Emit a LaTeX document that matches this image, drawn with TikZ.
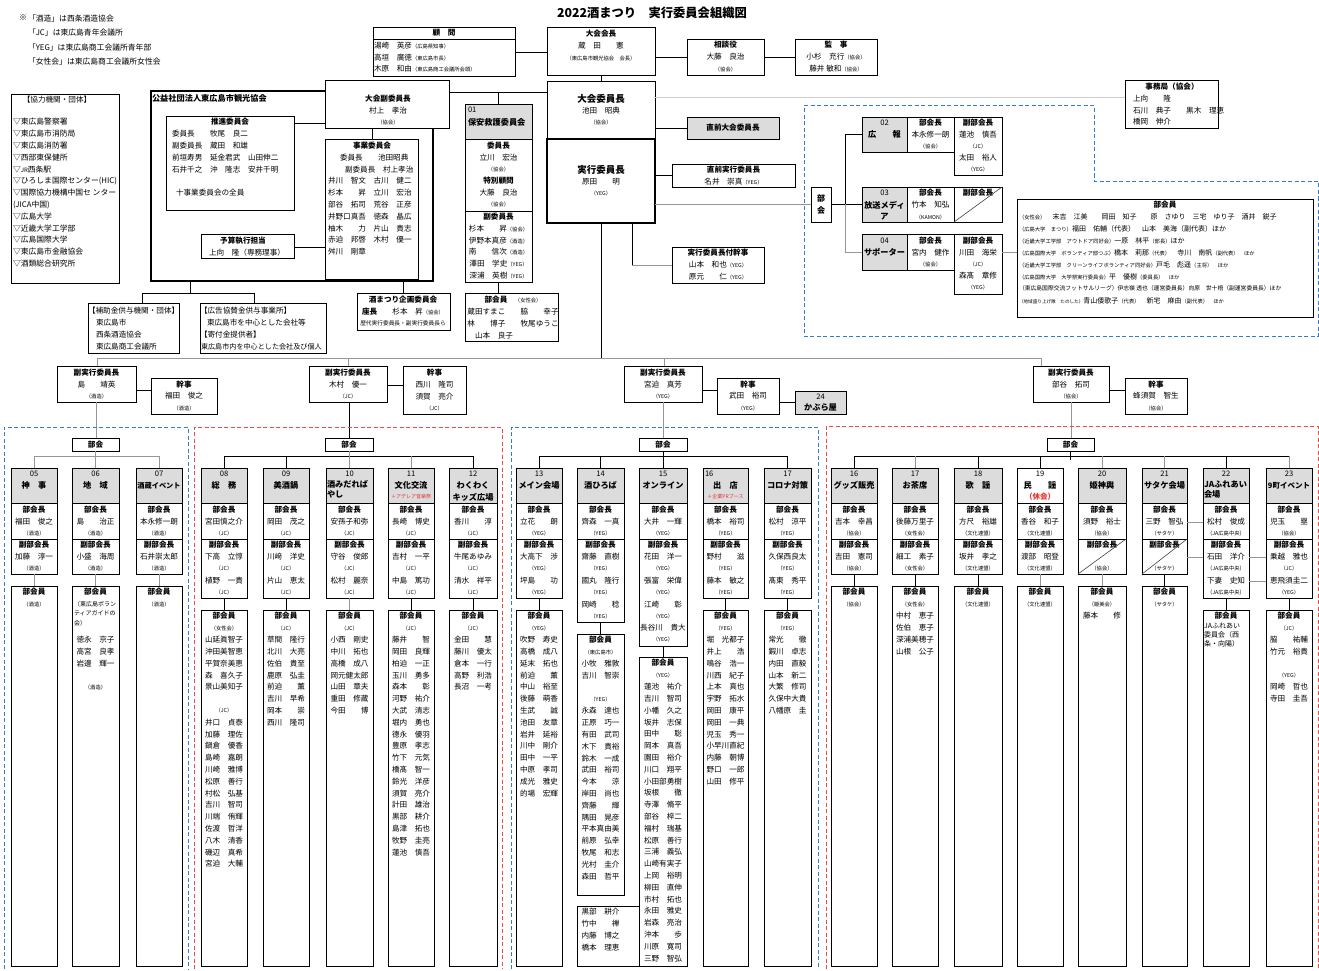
\documentclass[tikz,border=0pt]{standalone}
\usepackage{fontspec}
\setmainfont{Noto Sans CJK JP}
\definecolor{hdrgray}{RGB}{220,220,220}
\definecolor{dblue}{RGB}{52,125,200}
\definecolor{dred}{RGB}{240,75,75}
\definecolor{tred}{RGB}{235,45,45}
\definecolor{lgray}{RGB}{150,150,150}
\definecolor{llgray}{RGB}{205,205,205}
\newcounter{tn}
\newcommand\fN{\fontsize{7.6}{8}\selectfont}
\newcommand\fB{\fontsize{7.6}{8}\selectfont\bfseries}
\newcommand\fH{\fontsize{8.2}{9}\selectfont\bfseries}
\newcommand\fS{\fontsize{5.3}{6}\selectfont}
\newcommand\fM{\fontsize{7}{8}\selectfont}
\newcommand\fR{\fontsize{5}{6}\selectfont\color{tred}}
\newcommand\OG[1]{{\fS （#1）}}
\newcommand\TX[4][]{\stepcounter{tn}\node[t,#1] (t\arabic{tn}) at ({#2},{#3}) {#4};}
\newcommand\BX[6][]{\node[box,#1,minimum width={(#5-#3)*1pt},minimum height={(#6-#4)*1pt}] (#2) at (#3,#4) {};}
\newcommand\LST[4][]{\foreach \s [count=\i from 0] in {#4}{\stepcounter{tn}\node[t,#1] (t\arabic{tn}) at ({#2},{#3+\i*11.8}) {\s};}}
\newcommand\HC[4][cb]{\draw[#1] (#2 |- 0,#4) -- (#3 |- 0,#4);}
\newcommand\DHdr[6][\fH]{%
 \BX[fill=hdrgray]{h#2}{#3}{468}{#4}{503}%
 \TX{(#3+#4)/2}{474}{#5}%
 \TX[font=#1]{(#3+#4)/2}{485.5}{#6}}
\newcommand\DChief[5]{%
 \BX{c#1}{#2}{503}{#3}{539}%
 \TX[font=\fB]{(#2+#3)/2}{510}{部会長}%
 \TX{(#2+#3)/2}{521.5}{#4}%
 \TX[font=\fS]{(#2+#3)/2}{533}{（#5）}}
\newcommand\DVice[5]{%
 \BX{v#1}{#2}{539}{#3}{#4}%
 \TX[font=\fB]{(#2+#3)/2}{545}{副部会長}%
 \LST{(#2+#3)/2}{557}{#5}}
\newcommand\DMem[5]{%
 \BX{m#1}{#2}{#4}{#3}{966}%
 \TX[font=\fB]{(#2+#3)/2}{#4+6}{部会員}%
 \LST{(#2+#3)/2}{#4+18}{#5}}
\begin{document}
\begin{tikzpicture}[x=1pt,y=-1pt,
 box/.style={draw,line width=0.75pt,inner sep=0pt,outer sep=0pt,anchor=north west},
 t/.style={inner sep=0pt,outer sep=0pt,font=\fN},
 cb/.style={line width=0.75pt},
 cg/.style={line width=0.75pt,draw=lgray},
 cl/.style={line width=0.75pt,draw=llgray},
 bdash/.style={draw=dblue,line width=1pt,dash pattern=on 4pt off 2.5pt},
 rdash/.style={draw=dred,line width=1pt,dash pattern=on 4pt off 2.5pt},
 diag/.style={line width=0.6pt,draw=black!75}]
\fill[white] (0,0) rectangle (1319,971);
\useasboundingbox (0,0) rectangle (1319,971);

% title and notes
\TX[font=\fontsize{12.3}{14}\selectfont\bfseries]{652}{13}{2022酒まつり　実行委員会組織図}
\TX[anchor=west,font=\fontsize{8}{9}\selectfont]{19}{18}{※}
\TX[anchor=west,font=\fontsize{7.8}{9}\selectfont]{28}{18.5}{「酒造」は西条酒造協会}
\TX[anchor=west,font=\fontsize{7.8}{9}\selectfont]{28}{33}{「JC」は東広島青年会議所}
\TX[anchor=west,font=\fontsize{7.8}{9}\selectfont]{28}{47.5}{「YEG」は東広島商工会議所青年部}
\TX[anchor=west,font=\fontsize{7.8}{9}\selectfont]{28}{62}{「女性会」は東広島商工会議所女性会}

% cooperating organisations
\BX{kyoryoku}{11}{94}{119}{283}
\TX{57}{100}{【協力機関・団体】}
\LST[anchor=west,font=\fontsize{7.8}{9}\selectfont]{13}{122}{▽東広島警察署,▽東広島市消防局,▽東広島消防署,▽西部東保健所,▽{\fontsize{6}{7}\selectfont JR}西条駅,▽ひろしま国際センター(HIC),▽国際協力機構中国セ ンター,(JICA中国),▽広島大学,▽近畿大学工学部,▽広島国際大学,▽東広島市金融協会,▽酒類総合研究所}

% tourism association (thick)
\BX[line width=2.5pt]{kanko}{151}{91}{433}{281}
\TX[anchor=west,font=\fH]{152}{98}{公益社団法人東広島市観光協会}
\BX{suishin}{166}{116}{294}{210}
\TX[font=\fB]{230}{122}{推進委員会}
\LST[anchor=west]{172}{134}{委員長　　牧尾　良二,副委員長　蔵田　和雄,前垣寿男　延金君武　山田伸二,石井千之　沖　隆志　安井千明}
\TX[anchor=west]{176}{193}{十事業委員会の全員}
\BX{yosan}{201}{234}{294}{258}
\TX[font=\fB]{243}{241}{予算執行担当}
\TX{247}{253}{上向　隆（専務理事）}

\BX[fill=white]{fukuiin}{325}{80}{449}{128}
\TX[font=\fB]{388}{99}{大会副委員長}
\TX{388}{110.5}{村上　孝治}
\TX[font=\fS]{388}{122}{（協会）}
\BX{jigyo}{325}{139}{418}{279}
\TX[font=\fB]{372}{146}{事業委員会}
\TX[anchor=west]{340}{158}{委員長　　池田昭典}
\TX[anchor=west]{345}{169.5}{副委員長　村上孝治}
\LST[anchor=west]{328}{181}{井川　智文　古川　健二,杉本　　昇　立川　宏治,部谷　拓司　荒谷　正彦,井野口真吾　徳森　晶広,柚木　　力　片山　貴志,赤迫　邦啓　木村　優一,舛川　剛章}
\HC{suishin.east}{fukuiin.west}{123}
\HC{yosan.east}{jigyo.west}{247}
\draw[cb] (fukuiin.south -| 372,0) -- (jigyo.north -| 372,0);

\BX{kikaku}{357}{293}{450}{330}
\TX[font=\fB]{403}{299.5}{酒まつり企画委員会}
\TX{403}{311.5}{{\fB 座長}　　杉本　昇{\fS（協会）}}
\TX[font=\fontsize{5.7}{6}\selectfont]{403}{323}{歴代実行委員長・副実行委員長ら}
\draw[cb] (kanko.south -| 403,0) -- (kikaku.north -| 403,0);

% subsidy / sponsors
\BX{hojo}{88}{303}{179}{353}
\BX{kokoku}{200}{303}{326}{353}
\coordinate (hj) at (190,293);
\draw[cb] (kanko.south -| hj) -- (hj);
\draw[cb] (hojo.north -| 142,0) -- (142,293) -- (254,293) -- (kokoku.north -| 254,0);
\TX[anchor=west]{88}{311}{【補助金供与機関・団体】}
\LST[anchor=west]{96}{323}{東広島市,西条酒造協会,東広島商工会議所}
\TX[anchor=west]{200}{311}{【広告協賛金供与事業所】}
\TX[anchor=west]{207}{323}{東広島市を中心とした会社等}
\TX[anchor=west]{200}{335}{【寄付金提供者】}
\TX[anchor=west,font=\fontsize{7.1}{8}\selectfont]{201}{346.5}{東広島市内を中心とした会社及び個人}

% advisers and chair
\BX{komon}{373}{27}{515}{76}
\draw[cb] (komon.west |- 0,39) -- (komon.east |- 0,39);
\TX[font=\fB]{444}{33}{顧　問}
\LST[anchor=west]{374}{45.5}{湯崎　英彦{\fS（広島県知事）},高垣　廣徳{\fS（東広島市長）},木原　和由{\fS（東広島商工会議所会頭）}}
\BX{kaicho}{547}{27}{655}{75}
\TX[font=\fB]{601}{33.5}{大会会長}
\TX{601}{46}{蔵　田　　憲}
\TX[font=\fS]{601}{58}{（東広島市観光協会　会長）}
\HC{komon.east}{kaicho.west}{52}
\BX{sodan}{687}{39}{764}{75}
\TX[font=\fB]{725.5}{45}{相談役}
\TX{725.5}{57}{大藤　良治}
\TX[font=\fS]{725.5}{69}{（協会）}
\HC{kaicho.east}{sodan.west}{57}
\BX{kanji}{795}{39}{877}{75}
\TX[font=\fB]{836}{45}{監　事}
\TX{836}{57}{小杉　充行{\fS（協会）}}
\TX{836}{69}{藤井 敏和{\fS（協会）}}
\HC{sodan.east}{kanji.west}{57}

\BX{iincho}{547}{81}{655}{139}
\draw[cb] (kaicho.south -| 601,0) -- (iincho.north -| 601,0);
\TX[font=\fontsize{9.5}{10}\selectfont\bfseries]{601}{99}{大会委員長}
\TX{601}{110.5}{池田　昭典}
\TX[font=\fS]{601}{122}{（協会）}
\BX[line width=2.2pt]{jikko}{547}{139}{655}{223}
\TX[font=\fontsize{9.5}{10}\selectfont\bfseries]{601}{170}{実行委員長}
\TX{601}{182}{原田　　明}
\TX[font=\fS]{601}{193.5}{（YEG）}
\HC{fukuiin.east}{iincho.west}{92}

% 01 hoan
\BX[fill=hdrgray]{h01}{465}{104}{532}{139}
\draw[cb] (h01.north |- 0,92) -- (h01.north);
\TX[anchor=west]{468}{110}{01}
\TX[anchor=west,font=\fH]{468}{122}{保安救護委員会}
\BX{s01a}{465}{139}{532}{211}
\TX[font=\fB]{498.5}{146}{委員長}
\TX{498.5}{157.5}{立川　宏治}
\TX[font=\fS]{498.5}{169}{（協会）}
\TX[font=\fB]{498.5}{181}{特別顧問}
\TX{498.5}{193}{大藤　良治}
\TX[font=\fS]{498.5}{204.5}{（協会）}
\BX{s01b}{465}{211}{532}{282}
\TX[font=\fB]{498.5}{216.5}{副委員長}
\LST{498.5}{228.5}{杉本　　昇{\fS（協会）},伊野本真彦{\fS（酒造）},南　　信次{\fS（酒造）},澤田　学史{\fS（YEG）},深浦　英樹{\fS（YEG）}}
\BX{m01}{465}{293}{558}{341}
\draw[cb] (s01b.south) -- (s01b.south |- m01.north);
\TX{513}{299.5}{{\fB 部会員}\quad{\fS（女性会）}}
\TX{513}{311.5}{蔵田すまこ　　脇　　幸子}
\TX{513}{323.5}{林　　博子　　牧尾ゆうこ}
\TX[anchor=west]{475}{335.5}{山本　良子}

% right of chair
\BX[fill=hdrgray]{zenkai}{687}{117}{779}{139}
\TX[font=\fB]{733}{128}{直前大会委員長}
\HC{iincho.east}{zenkai.west}{128}
\BX{zenjikko}{672}{164}{795}{187}
\TX[font=\fB]{733.5}{170}{直前実行委員長}
\TX{733.5}{181.5}{名井　崇真{\fS（YEG）}}
\HC{jikko.east}{zenjikko.west}{175}
\BX{tsuki}{672}{247}{764}{283}
\TX[font=\fB]{718}{253}{実行委員長付幹事}
\TX{718}{265}{山本　和也{\fS（YEG）}}
\TX{718}{277}{原元　　仁{\fS（YEG）}}
\draw[cb] (jikko.south -| 632,0) -- (632,265);
\draw[cg] (632,265) -- (tsuki.west |- 0,265);

\BX{jimu}{1125}{80}{1218}{128}
\TX[font=\fB]{1172}{86.5}{事務局（協会）}
\LST[anchor=west]{1133}{98.5}{上向　　隆,石川　典子　　黒木　理恵,橋岡　伸介}
\HC[cl]{iincho.east}{jimu.west}{97}

% top-right dashed region
\draw[bdash] (804,106) -- (1094,106) -- (1094,181) -- (1318,181) -- (1318,336) -- (804,336) -- cycle;
\BX{bukai0}{811}{187}{831}{222}
\TX[font=\fontsize{8}{12}\selectfont\bfseries,align=center]{821}{204.5}{部\\会}
\HC[cg]{jikko.east}{bukai0.west}{204}
\coordinate (bj) at (845,204);
\draw[cb] (bukai0.east |- bj) -- (bj);
\BX[fill=hdrgray]{h02}{862}{117}{907}{152}
\TX{884.5}{123}{02}
\TX[font=\fH]{884.5}{134.5}{広　　報}
\BX{c02}{907}{117}{954}{152}
\TX[font=\fB]{930.5}{123}{部会長}
\TX{930.5}{134.5}{本永修一朗}
\TX[font=\fS]{930.5}{146}{（協会）}
\BX{v02}{954}{117}{1002}{175}
\TX[font=\fB]{978}{123}{副部会長}
\LST{978}{134.5}{蓮池　慎吾,\OG{JC},太田　裕人,\OG{YEG}}
\BX[fill=hdrgray]{h03}{862}{187}{907}{222}
\TX{884.5}{193}{03}
\TX[font=\fH]{884.5}{205}{放送メディ}
\TX[font=\fH]{884.5}{217}{ア}
\BX{c03}{907}{187}{954}{222}
\TX[font=\fB]{930.5}{193}{部会長}
\TX{930.5}{205}{竹本　知弘}
\TX[font=\fS]{930.5}{217}{（KAMON）}
\BX{v03}{954}{187}{1002}{222}
\TX[font=\fB]{978}{193}{副部会長}
\draw[diag] (v03.south west) -- (v03.north east);
\BX[fill=hdrgray]{h04}{862}{234}{907}{270}
\TX{884.5}{241}{04}
\TX[font=\fH]{884.5}{252.5}{サポーター}
\BX{c04}{907}{234}{954}{270}
\TX[font=\fB]{930.5}{241}{部会長}
\TX{930.5}{252.5}{宮内　健作}
\TX[font=\fS]{930.5}{264}{（協会）}
\BX{v04}{954}{234}{1002}{294}
\TX[font=\fB]{978}{241}{副部会長}
\LST{978}{252.5}{川田　海栄,\OG{JC},森髙　章修,\OG{YEG}}
\draw[cb] (h02.west) -| (bj);
\draw[cb] (h03.west |- bj) -- (bj);
\draw[cg] (h04.west) -| (bj);
\BX{bkin}{1017}{199}{1313}{317}
\HC[cg]{v04.east}{bkin.west}{252}
\TX[font=\fB]{1165}{205}{部会員}
\TX[anchor=west,font=\fM]{1019}{216.5}{{\fS（女性会）}　末吉　江美　　岡田　知子　　原　さゆり　三宅　ゆり子　酒井　鋭子}
\TX[anchor=west,font=\fM]{1019}{228.5}{{\fS（広島大学　まつり）}福田　佑輔（代表）　山本　美海（副代表）ほか}
\TX[anchor=west,font=\fM]{1019}{240.5}{{\fS（近畿大学工学部　アウトドア同好会）}一原　林平{\fS（部長）}ほか}
\TX[anchor=west,font=\fM]{1019}{252.5}{{\fS（広島国際大学　ボランティア部つぶ）}橋本　莉那{\fS（代表）}　寺川　南帆{\fS（副代表）　ほか}}
\TX[anchor=west,font=\fM]{1019}{264.5}{{\fS（近畿大学工学部　クリーンライフボランティア同好会）}戸毛　彪遥{\fS（主将）　ほか}}
\TX[anchor=west,font=\fM]{1019}{276.5}{{\fS（広島国際大学　大学祭実行委員会）}平　優樹{\fS（委員長）　ほか}}
\TX[anchor=west,font=\fontsize{5.8}{6}\selectfont]{1019}{288.5}{（東広島国際交流フットサルリーグ）伊志嶺 透也（運営委員長）向原　世十梧（副運営委員長）ほか}
\TX[anchor=west,font=\fM]{1019}{300.5}{{\fontsize{4.6}{5}\selectfont（地域盛り上げ隊　たのした）}青山倭歌子{\fS（代表）}　新宅　麻由{\fS（副代表）　ほか}}

% main trunk and bus
\coordinate (jbus) at (601,358);
\coordinate (b1) at (97,358);
\coordinate (b2) at (348,358);
\coordinate (b3) at (664,358);
\coordinate (b4) at (1041,358);
\draw[cb] (jikko.south -| jbus) -- (jbus);
\draw[cg] (b1) -- (b4);

% deputy chairs
\BX{f1}{57}{366}{136}{402}
\TX[font=\fB]{96.5}{372.5}{副実行委員長}
\TX{96.5}{384.5}{島　　靖英}
\TX[font=\fS]{96.5}{396}{（酒造）}
\BX{k1}{151}{378}{217}{414}
\TX[font=\fB]{184}{384.5}{幹事}
\TX{184}{396}{福田　俊之}
\TX[font=\fS]{184}{408}{（酒造）}
\HC{f1.east}{k1.west}{390}
\BX{bk1}{72}{438}{119}{451}
\TX[font=\fB]{95.5}{444.5}{部会}
\draw[cg] (b1) -- (f1.north -| b1);
\draw[cg] (f1.south -| 96,0) -- (bk1.north -| 96,0);

\BX{f2}{309}{366}{387}{402}
\TX[font=\fB]{348}{372.5}{副実行委員長}
\TX{348}{384.5}{木村　優一}
\TX[font=\fS]{348}{396}{（JC）}
\BX{k2}{403}{366}{466}{414}
\TX[font=\fB]{434.5}{372.5}{幹事}
\LST{434.5}{384.5}{西川　隆司,須賀　亮介}
\TX[font=\fS]{434.5}{408}{（JC）}
\HC{f2.east}{k2.west}{385}
\BX{bk2}{325}{438}{373}{451}
\TX[font=\fB]{349}{444.5}{部会}
\draw[cg] (b2) -- (f2.north -| b2);
\draw[cb] (f2.south -| 349,0) -- (bk2.north -| 349,0);

\BX{f3}{624}{366}{702}{402}
\TX[font=\fB]{663}{372.5}{副実行委員長}
\TX{663}{384.5}{宮迫　真芳}
\TX[font=\fS]{663}{396}{（YEG）}
\BX{k3}{717}{378}{779}{414}
\TX[font=\fB]{748}{384.5}{幹事}
\TX{748}{396}{武田　裕司}
\TX[font=\fS]{748}{408}{（YEG）}
\HC{f3.east}{k3.west}{390}
\BX[fill=hdrgray]{kab}{795}{391}{846}{414}
\TX{820.5}{397}{24}
\TX[font=\fH]{820.5}{408}{かぶら屋}
\HC{k3.east}{kab.west}{402}
\BX{bk3}{639}{438}{687}{451}
\TX[font=\fB]{663}{444.5}{部会}
\draw[cg] (b3) -- (f3.north -| b3);
\draw[cg] (f3.south -| 663,0) -- (bk3.north -| 663,0);

\BX{f4}{1033}{366}{1109}{402}
\TX[font=\fB]{1071}{372.5}{副実行委員長}
\TX{1071}{384.5}{部谷　拓司}
\TX[font=\fS]{1071}{396}{（協会）}
\BX{k4}{1125}{378}{1187}{414}
\TX[font=\fB]{1156}{384.5}{幹事}
\TX{1156}{396}{蜂須賀　智生}
\TX[font=\fS]{1156}{408}{（協会）}
\HC{f4.east}{k4.west}{390}
\BX{bk4}{1047}{438}{1094}{451}
\TX[font=\fB]{1070.5}{444.5}{部会}
\draw[cg] (b4) -- (f4.north -| b4);
\draw[cg] (f4.south -| 1071,0) -- (bk4.north -| 1071,0);

% dashed regions
\draw[bdash] (4,969) -- (4,427) -- (188,427) -- (188,969);
\draw[rdash] (194,969) -- (194,427) -- (502,427) -- (502,969);
\draw[bdash] (511,969) -- (511,427) -- (818,427) -- (818,969);
\draw[rdash] (826,969) -- (826,426) -- (1318,426) -- (1318,969);

% ===== region 1 =====
\DHdr{05}{11}{57}{05}{神　事}
\DChief{05}{11}{57}{福田　俊之}{酒造}
\DVice{05}{11}{57}{574}{加藤　淳一,\OG{酒造}}
\DMem{05}{11}{57}{586}{\OG{酒造}}
\DHdr{06}{72}{119}{06}{地　域}
\DChief{06}{72}{119}{島　　治正}{酒造}
\DVice{06}{72}{119}{574}{小盛　海周,\OG{酒造}}
\DMem{06}{72}{119}{586}{}
\TX[anchor=west,font=\fontsize{6}{7}\selectfont]{74}{604}{（東広島ボラン}
\TX[anchor=west,font=\fontsize{6}{7}\selectfont]{74}{613.5}{ティアガイドの}
\TX[anchor=west,font=\fontsize{6}{7}\selectfont]{74}{623}{会）}
\LST{95.5}{640}{徳永　京子,高宮　良孝,岩邊　輝一,{},\OG{酒造}}
\DHdr[\fontsize{7.2}{8}\selectfont\bfseries]{07}{136}{182}{07}{酒蔵イベント}
\DChief{07}{136}{182}{本永修一朗}{酒造}
\DVice{07}{136}{182}{574}{石井崇太郎,\OG{酒造}}
\DMem{07}{136}{182}{586}{\OG{酒造}}
\draw[cg] (h05.north) -- (h05.north |- 0,456) -- (h07.north |- 0,456) -- (h07.north);
\draw[cg] (bk1.south) -- (h06.north);
\draw[cg] (v05.south) -- (m05.north);
\draw[cg] (v06.south) -- (m06.north);
\draw[cg] (v07.south) -- (m07.north);

% ===== region 2 =====
\DHdr{08}{201}{247}{08}{総　務}
\DChief{08}{201}{247}{宮田慎之介}{JC}
\DVice{08}{201}{247}{598}{下高　立惇,\OG{JC},植野　一貴,\OG{JC}}
\DMem{08}{201}{247}{610}{\OG{女性会},山延眞智子,沖田美智恵,平賀奈美恵,森　喜久子,景山美知子,{},\OG{JC},井口　貞泰,加藤　理佐,鍋倉　優香,島崎　嘉朗,川崎　雅博,松原　善行,村松　弘基,吉川　智司,川端　侑輝,佐渡　哲洋,八木　清香,磯辺　真希,宮迫　大輔}
\DHdr{09}{263}{309}{09}{美酒鍋}
\DChief{09}{263}{309}{岡田　茂之}{JC}
\DVice{09}{263}{309}{598}{川﨑　洋史,\OG{JC},片山　恵太,\OG{JC}}
\DMem{09}{263}{309}{610}{\OG{JC},草間　隆行,北川　大亮,佐伯　貴至,鹿原　弘圭,前迫　　薫,吉川　早希,岡本　　崇,西川　隆司}
\DHdr{10}{326}{373}{10}{}
\TX[anchor=west,font=\fH]{327}{484.5}{酒みだれば}
\TX[anchor=west,font=\fH]{327}{494.5}{やし}
\DChief{10}{326}{373}{安孫子和弥}{JC}
\DVice{10}{326}{373}{598}{守谷　俊郎,\OG{JC},松村　麗奈,\OG{JC}}
\DMem{10}{326}{373}{610}{\OG{JC},小西　剛史,中川　拓也,高橋　成八,岡元健太郎,山田　章夫,重田　修蔵,今田　　博}
\DHdr{11}{388}{434}{11}{文化交流}
\TX[font=\fR]{411}{497}{＋アデレア音楽祭}
\DChief{11}{388}{434}{長崎　博史}{JC}
\DVice{11}{388}{434}{598}{吉村　一平,\OG{JC},中島　篤功,\OG{JC}}
\DMem{11}{388}{434}{610}{\OG{JC},藤井　　智,岡田　良輝,柏迫　一正,玉川　勇多,森本　　彰,河野　祐介,大武　清志,堀内　勇也,德永　優羽,豊原　孝志,竹下　元気,橋髙　智一,鈴光　洋彦,須賀　亮介,計田　雄治,黒部　耕介,島津　拓也,牧野　圭亮,蓮池　慎吾}
\DHdr{12}{449}{497}{12}{}
\TX[font=\fH]{473}{485}{わくわく}
\TX[font=\fH]{473}{497}{キッズ広場}
\DChief{12}{449}{497}{香川　　淳}{JC}
\DVice{12}{449}{497}{598}{牛尾あゆみ,\OG{JC},清水　祥平,\OG{JC}}
\DMem{12}{449}{497}{610}{\OG{JC},金田　　慧,藤川　優太,倉本　一行,高野　利浩,長沼　一考}
\draw[cb] (h08.north) -- (h08.north |- 0,456) -- (h12.north |- 0,456) -- (h12.north);
\draw[cb] (h09.north) -- (h09.north |- 0,456);
\draw[cg] (bk2.south) -- (bk2.south |- h10.north);
\draw[cg] (h11.north) -- (h11.north |- 0,456);
\draw[cb] (v08.south) -- (m08.north);
\draw[cb] (v09.south) -- (m09.north);
\draw[cg] (v10.south) -- (m10.north);
\draw[cb] (v11.south) -- (m11.north);
\draw[cb] (v12.south) -- (m12.north);

% ===== region 3 =====
\DHdr{13}{516}{562}{13}{メイン会場}
\DChief{13}{516}{562}{立花　　朗}{YEG}
\DVice{13}{516}{562}{598}{大高下　涉,\OG{YEG},坪島　　功,\OG{YEG}}
\DMem{13}{516}{562}{610}{\OG{YEG},吹野　寿史,高橋　成八,延末　拓也,前迫　　薫,中山　裕至,後藤　萌香,生武　　誠,池田　友章,岩井　延裕,川中　剛介,田中　一平,中原　孝司,成光　雅史,的場　宏輝}
\DHdr{14}{577}{624}{14}{酒ひろば}
\DChief{14}{577}{624}{齊森　一真}{YEG}
\DVice{14}{577}{624}{622}{齋藤　直樹,\OG{YEG},國丸　隆行,\OG{YEG},岡崎　　稔,\OG{YEG}}
\BX{m14}{577}{634}{624}{895}
\TX[font=\fB]{600.5}{640}{部会員}
\LST{600.5}{652}{\OG{東広島市},小牧　雅敦,吉川　智崇,{},\OG{YEG},永森　達也,正原　巧一,有田　武司,木下　貴裕,鈴木　一成,武田　裕司,今本　　涼,岸田　尚也,齊藤　　輝,隅田　晃彦,平本真由美,前原　弘幸,牧尾　和志,光村　圭介,森田　哲平}
\BX{m14b}{577}{906}{639}{966}
\LST{600.5}{912}{黒部　耕介,竹中　　禅,内藤　博之,橋本　理恵}
\DHdr{15}{639}{687}{15}{オンライン}
\DChief{15}{639}{687}{大井　一輝}{YEG}
\DVice{15}{639}{687}{646}{花田　洋一,\OG{YEG},張富　栄偉,\OG{YEG},江崎　　彰,\OG{YEG},長谷川　貴大,\OG{YEG}}
\DMem{15}{639}{687}{657}{\OG{YEG},蓮池　祐介,吉川　智司,小幡　久之,坂井　志保,田中　　聡,岡本　真吾,園田　裕介,川口　翔平,小田部勇樹,坂根　　徹,寺澤　脩平,部谷　梓二,福村　瑞基,松原　善行,三浦　義弘,山崎有実子,上岡　裕明,柳田　直伸,市村　拓也,永田　雅史,岩森　亮治,沖本　　歩,川原　寛司,三野　智弘}
\DHdr{16s}{703}{748}{}{出　店}
\TX[anchor=west]{705}{474}{16}
\TX[font=\fR]{725.5}{497}{＋企業PRブース}
\DChief{16s}{703}{748}{橋本　裕司}{YEG}
\DVice{16s}{703}{748}{598}{野村　　滋,\OG{YEG},藤本　敏之,\OG{YEG}}
\DMem{16s}{703}{748}{610}{\OG{YEG},堀　光都子,井上　　浩,鳴谷　浩一,川西　紀子,上本　真也,宇野　拓水,岡田　康平,岡田　一典,児玉　秀一,小早川直紀,内藤　朝博,野口　一郎,山田　修平}
\DHdr{17c}{764}{811}{17}{コロナ対策}
\DChief{17c}{764}{811}{松村　涼平}{YEG}
\DVice{17c}{764}{811}{598}{久保西良太,\OG{YEG},髙東　秀平,\OG{YEG}}
\DMem{17c}{764}{811}{610}{\OG{YEG},常光　　徹,鍜川　卓志,内田　直毅,山本　新二,大繁　修司,久保中大貴,八幡原　圭}
\draw[cb] (h13.north) -- (h13.north |- 0,456) -- (h17c.north |- 0,456) -- (h17c.north);
\draw[cb] (h14.north) -- (h14.north |- 0,456);
\draw[cb] (bk3.south) -- (bk3.south |- h15.north);
\draw[cb] (v13.south) -- (m13.north);
\draw[cb] (v14.south) -- (m14.north);
\draw[cb] (v15.south) -- (m15.north);
\draw[cb] (v16s.south) -- (m16s.north);
\draw[cb] (v17c.south) -- (m17c.north);

% ===== region 4 =====
\DHdr{16g}{831}{877}{16}{グッズ販売}
\DChief{16g}{831}{877}{吉本　幸昌}{協会}
\DVice{16g}{831}{877}{574}{吉田　憲司,\OG{協会}}
\DMem{16g}{831}{877}{586}{\OG{協会}}
\DHdr{17o}{892}{938}{17}{お茶席}
\DChief{17o}{892}{938}{後藤万里子}{女性会}
\DVice{17o}{892}{938}{574}{細工　素子,\OG{女性会}}
\DMem{17o}{892}{938}{586}{\OG{女性会},中村　恵子,佐伯　恵子,深浦美穂子,山根　公子}
\DHdr{18}{954}{1002}{18}{歌　謡}
\DChief{18}{954}{1002}{方尺　裕雄}{文化連盟}
\DVice{18}{954}{1002}{574}{坂井　孝之,\OG{文化連盟}}
\DMem{18}{954}{1002}{586}{\OG{文化連盟}}
\BX{h19}{1017}{468}{1063}{503}
\TX{1040}{474}{19}
\TX[font=\fH]{1040}{485.5}{民　　謡}
\TX[font=\fontsize{7.5}{8}\selectfont\bfseries\color{tred}]{1040}{497}{（休会）}
\DChief{19}{1017}{1063}{香谷　和子}{文化連盟}
\DVice{19}{1017}{1063}{574}{渡部　昭登,\OG{文化連盟}}
\DMem{19}{1017}{1063}{586}{\OG{文化連盟}}
\DHdr{20}{1078}{1126}{20}{姫神輿}
\DChief{20}{1078}{1126}{須野　裕士}{協会}
\DVice{20}{1078}{1126}{574}{{},\OG{協会}}
\draw[diag] (v20.south west) -- (v20.north east);
\DMem{20}{1078}{1126}{586}{\OG{姫美会},藤本　　修}
\DHdr{21}{1142}{1187}{21}{サタケ会場}
\DChief{21}{1142}{1187}{三野　智弘}{サタケ}
\DVice{21}{1142}{1187}{574}{{},\OG{サタケ}}
\draw[diag] (v21.south west) -- (v21.north east);
\DMem{21}{1142}{1187}{586}{\OG{サタケ}}
\DHdr{22}{1203}{1249}{22}{}
\TX[anchor=west,font=\fH]{1204}{484.5}{JAふれあい}
\TX[anchor=west,font=\fH]{1204}{494.5}{会場}
\DChief{22}{1203}{1249}{松村　俊成}{JA広島中央}
\DVice{22}{1203}{1249}{598}{石田　洋介,\OG{JA広島中央},下妻　史知,\OG{JA広島中央}}
\DMem{22}{1203}{1249}{610}{}
\TX[anchor=west,font=\fontsize{7}{8}\selectfont]{1204}{626}{JAふれあい}
\TX[anchor=west,font=\fontsize{7}{8}\selectfont]{1204}{635}{委員会（西}
\TX[anchor=west,font=\fontsize{7}{8}\selectfont]{1204}{644}{条・向陽）}
\DHdr[\fontsize{7.5}{8}\selectfont\bfseries]{23}{1266}{1312}{23}{9町イベント}
\DChief{23}{1266}{1312}{児玉　　塁}{協会}
\DVice{23}{1266}{1312}{598}{乗越　雅也,\OG{JC},恵飛須圭二,\OG{YEG}}
\DMem{23}{1266}{1312}{610}{\OG{JC},脇　　祐輔,竹元　裕貴,{},\OG{YEG},岡崎　哲也,寺田　圭吾}
\draw[cb] (h16g.north) -- (h16g.north |- 0,456) -- (h23.north |- 0,456);
\draw[cg] (h23.north) -- (h23.north |- 0,456);
\draw[cg] (h17o.north) -- (h17o.north |- 0,456);
\draw[cb] (h18.north) -- (h18.north |- 0,456);
\draw[cb] (h19.north) -- (h19.north |- 0,456);
\draw[cb] (bk4.south) -- (bk4.south |- 0,460);
\draw[cg] (h20.north) -- (h20.north |- 0,456);
\draw[cg] (h21.north) -- (h21.north |- 0,456);
\draw[cb] (h22.north) -- (h22.north |- 0,456);
\draw[cb] (v16g.south) -- (m16g.north);
\draw[cb] (v17o.south) -- (m17o.north);
\draw[cb] (v18.south) -- (m18.north);
\draw[cg] (v19.south) -- (m19.north);
\draw[cg] (v20.south) -- (m20.north);
\draw[cb] (v21.south) -- (m21.north);
\draw[cb] (v22.south) -- (m22.north);
\draw[cb] (v23.south) -- (m23.north);
\HC[cg]{c21.east}{c22.west}{522}
\HC[cg]{v21.east}{v22.west}{557}
\HC[cg]{v22.east}{v23.west}{557}
\HC[cg]{v22.east}{v23.west}{581}
\end{tikzpicture}
\end{document}
